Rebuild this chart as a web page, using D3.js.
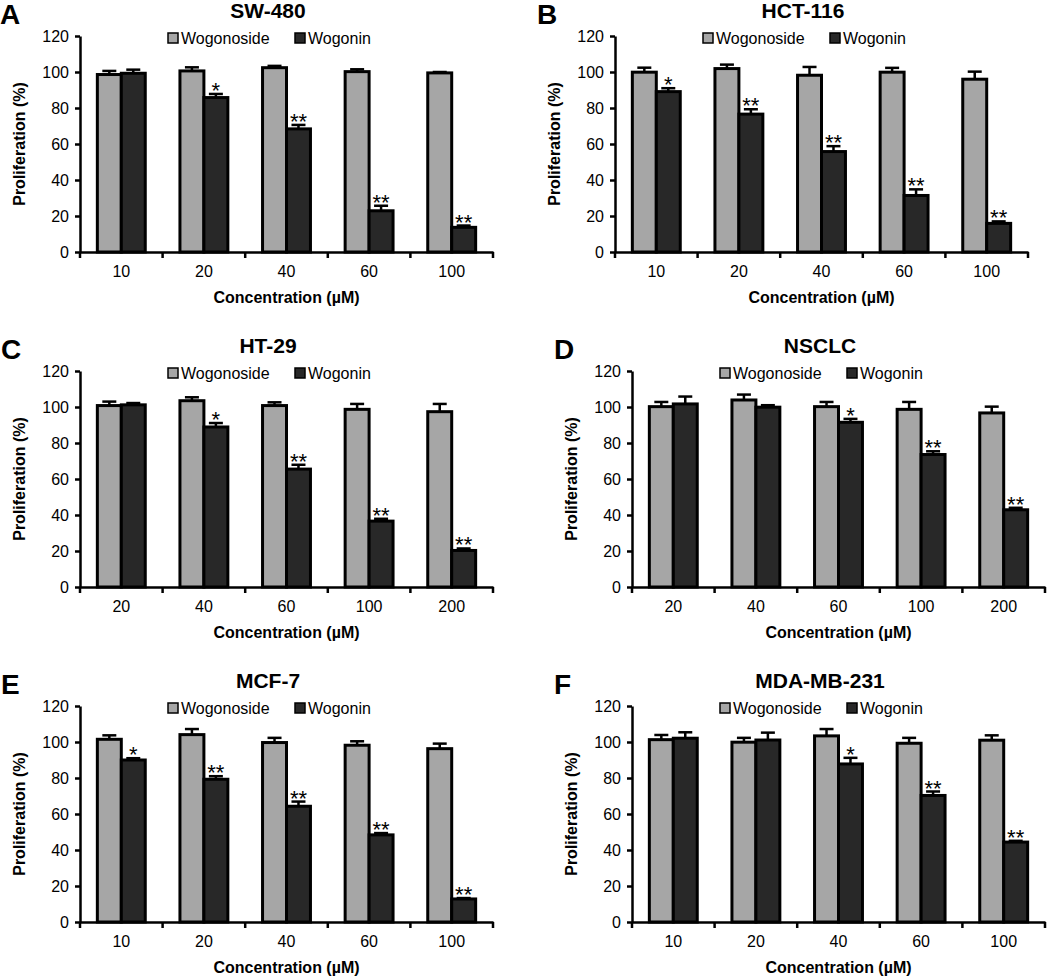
<!DOCTYPE html>
<html>
<head>
<meta charset="utf-8">
<script src="https://cdn.jsdelivr.net/npm/d3@7"></script>
<style>
  body { margin: 0; background: #fff; }
  svg { font-family: "Liberation Sans", Arial, sans-serif; }
</style>
</head>
<body>
<svg id="chart" width="1050" height="977"></svg>
<script>
const series = ['Wogonoside', 'Wogonin'];
const yTicks = [0, 20, 40, 60, 80, 100, 120];

// A: SW-480
const swConc = ['10', '20', '40', '60', '100'];
const swWogonoside = [98.6, 100.6, 102.4, 100.2, 99.5];
const swWogonosideErr = [2, 2, 1, 1.3, 0.5];
const swWogonin = [99.3, 85.8, 68.4, 22.9, 13.7];
const swWogoninErr = [2, 2, 2.2, 2.8, 1];
const swSig = ['', '*', '**', '**', '**'];

// B: HCT-116
const hctConc = ['10', '20', '40', '60', '100'];
const hctWogonoside = [99.9, 101.9, 98.2, 99.9, 96];
const hctWogonosideErr = [2.5, 2.2, 4.6, 2.4, 4.2];
const hctWogonin = [89.1, 76.6, 55.8, 31.4, 15.9];
const hctWogoninErr = [1.9, 2.7, 3, 3.4, 1.1];
const hctSig = ['*', '**', '**', '**', '**'];

// C: HT-29
const htConc = ['20', '40', '60', '100', '200'];
const htWogonoside = [100.8, 103.5, 100.8, 98.7, 97.4];
const htWogonosideErr = [2.2, 1.9, 1.8, 3, 4.3];
const htWogonin = [101.2, 88.9, 65.5, 36.6, 20.3];
const htWogoninErr = [1, 2.2, 2.4, 1.3, 1.1];
const htSig = ['', '*', '**', '**', '**'];

// D: NSCLC
const nsConc = ['20', '40', '60', '100', '200'];
const nsWogonoside = [100.2, 103.9, 100.2, 98.7, 96.7];
const nsWogonosideErr = [2.6, 3, 2.6, 4.1, 3.5];
const nsWogonin = [101.7, 99.9, 91.5, 73.6, 42.9];
const nsWogoninErr = [4.1, 1.1, 1.9, 1.8, 1.1];
const nsSig = ['', '', '*', '**', '**'];

// E: MCF-7
const mcfConc = ['10', '20', '40', '60', '100'];
const mcfWogonoside = [101.5, 104.1, 99.7, 98.2, 96.3];
const mcfWogonosideErr = [2.2, 3.1, 2.6, 2.2, 2.8];
const mcfWogonin = [90, 79.3, 64.3, 48.4, 12.8];
const mcfWogoninErr = [1, 1.7, 2.6, 1, 0.5];
const mcfSig = ['*', '**', '**', '**', '**'];

// F: MDA-MB-231
const mdaConc = ['10', '20', '40', '60', '100'];
const mdaWogonoside = [101.3, 99.9, 103.4, 99.3, 101];
const mdaWogonosideErr = [2.6, 2.4, 3.8, 3, 2.7];
const mdaWogonin = [102.1, 101.1, 87.8, 70.3, 44.4];
const mdaWogoninErr = [3.3, 4.1, 3.4, 2.2, 0.7];
const mdaSig = ['', '', '*', '**', '**'];

const panels = [
  { letter: 'A', title: 'SW-480', conc: swConc, vals: [swWogonoside, swWogonin], errs: [swWogonosideErr, swWogoninErr], sig: swSig },
  { letter: 'B', title: 'HCT-116', conc: hctConc, vals: [hctWogonoside, hctWogonin], errs: [hctWogonosideErr, hctWogoninErr], sig: hctSig },
  { letter: 'C', title: 'HT-29', conc: htConc, vals: [htWogonoside, htWogonin], errs: [htWogonosideErr, htWogoninErr], sig: htSig },
  { letter: 'D', title: 'NSCLC', conc: nsConc, vals: [nsWogonoside, nsWogonin], errs: [nsWogonosideErr, nsWogoninErr], sig: nsSig },
  { letter: 'E', title: 'MCF-7', conc: mcfConc, vals: [mcfWogonoside, mcfWogonin], errs: [mcfWogonosideErr, mcfWogoninErr], sig: mcfSig },
  { letter: 'F', title: 'MDA-MB-231', conc: mdaConc, vals: [mdaWogonoside, mdaWogonin], errs: [mdaWogonosideErr, mdaWogoninErr], sig: mdaSig },
];

// plot origin (top of y axis) for each panel, and x of the panel letter
const origins = [
  { x: 80, y: 36, lx: 0 }, { x: 615, y: 36, lx: 537 },
  { x: 80, y: 371, lx: 1 }, { x: 632, y: 371, lx: 554 },
  { x: 80, y: 706, lx: 1 }, { x: 632, y: 706, lx: 554 },
];

const W = 413, H = 216;
const colors = d3.scaleOrdinal().domain(series).range(['#a6a6a6', '#282828']);

const svg = d3.select('#chart');

panels.forEach((p, i) => {
  const o = origins[i];

  svg.append('text')
    .attr('x', o.lx).attr('y', o.y - 12)
    .style('font-size', '28px').style('font-weight', 'bold')
    .text(p.letter);

  const g = svg.append('g').attr('transform', `translate(${o.x},${o.y})`);

  g.append('text')
    .attr('x', 188).attr('y', -18)
    .attr('text-anchor', 'middle')
    .style('font-size', '21px').style('font-weight', 'bold')
    .text(p.title);

  const x = d3.scaleBand().domain(p.conc).range([0, W]);
  const gw = x.bandwidth() * 0.58;
  const xs = d3.scaleBand().domain(series)
    .range([(x.bandwidth() - gw) / 2, (x.bandwidth() + gw) / 2]);
  const y = d3.scaleLinear().domain([0, 120]).range([H, 0]);

  const rows = [];
  p.conc.forEach((c, j) => {
    series.forEach((s, k) => {
      rows.push({ c, s, v: p.vals[k][j], e: p.errs[k][j], sig: k === 1 ? p.sig[j] : '' });
    });
  });

  // error bars (upper only)
  const eb = g.append('g').selectAll('g').data(rows).join('g')
    .attr('transform', d => `translate(${x(d.c) + xs(d.s) + xs.bandwidth() / 2},0)`);
  eb.append('line')
    .attr('y1', d => y(d.v)).attr('y2', d => y(d.v + d.e))
    .attr('stroke', '#000').attr('stroke-width', 2.5);
  eb.append('line')
    .attr('x1', -7).attr('x2', 7)
    .attr('y1', d => y(d.v + d.e)).attr('y2', d => y(d.v + d.e))
    .attr('stroke', '#000').attr('stroke-width', 2.5);

  // bars
  g.append('g').selectAll('rect').data(rows).join('rect')
    .attr('x', d => x(d.c) + xs(d.s))
    .attr('y', d => y(d.v))
    .attr('width', xs.bandwidth())
    .attr('height', d => y(0) - y(d.v))
    .attr('fill', d => colors(d.s))
    .attr('stroke', '#000').attr('stroke-width', 3);

  // significance stars
  g.append('g').selectAll('text').data(rows.filter(d => d.sig)).join('text')
    .attr('x', d => x(d.c) + xs(d.s) + xs.bandwidth() / 2)
    .attr('y', d => y(d.v + d.e) + 4)
    .attr('text-anchor', 'middle')
    .style('font-size', '22px')
    .text(d => d.sig);

  // y axis
  const ya = g.append('g')
    .call(d3.axisLeft(y).tickValues(yTicks).tickSize(5).tickSizeOuter(0).tickPadding(6));
  ya.select('.domain').attr('stroke-width', 2.5);
  ya.selectAll('.tick line').attr('stroke-width', 2.5);
  ya.selectAll('.tick text').style('font-size', '16px').attr('fill', '#000')
    .attr('font-family', null);

  // x axis, tick marks on the category boundaries
  const xa = g.append('g').attr('transform', `translate(0,${H})`)
    .call(d3.axisBottom(x).tickSize(0).tickSizeOuter(0).tickPadding(14));
  xa.select('.domain').attr('stroke-width', 2.5);
  xa.selectAll('.tick text').style('font-size', '16px').attr('fill', '#000')
    .attr('font-family', null);
  xa.append('g').selectAll('line')
    .data([...p.conc.map(c => x(c)), x.range()[1]])
    .join('line')
    .attr('x1', d => d).attr('x2', d => d)
    .attr('y1', 0).attr('y2', 6)
    .attr('stroke', '#000').attr('stroke-width', 2.5);

  g.append('text')
    .attr('x', W / 2).attr('y', H + 51)
    .attr('text-anchor', 'middle')
    .style('font-size', '16px').style('font-weight', 'bold')
    .text('Concentration (\u00b5M)');

  g.append('text')
    .attr('transform', `translate(-55,${H / 2}) rotate(-90)`)
    .attr('text-anchor', 'middle')
    .style('font-size', '16px').style('font-weight', 'bold')
    .text('Proliferation (%)');

  // legend
  const lg = g.append('g').attr('transform', 'translate(88,2)');
  const li = lg.selectAll('g').data(series).join('g')
    .attr('transform', (d, k) => `translate(${k * 127},0)`);
  li.append('rect')
    .attr('x', 0).attr('y', -5).attr('width', 10).attr('height', 10)
    .attr('fill', d => colors(d))
    .attr('stroke', '#000').attr('stroke-width', 1.5);
  li.append('text')
    .attr('x', 13).attr('y', 6)
    .style('font-size', '16px')
    .text(d => d);
});
</script>
</body>
</html>
